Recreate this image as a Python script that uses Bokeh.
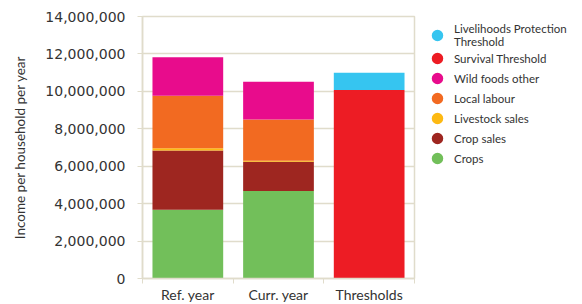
from bokeh.plotting import figure
from bokeh.models import ColumnDataSource, Range1d, FixedTicker, NumeralTickFormatter, Legend, LegendItem
from bokeh.embed import file_html
from bokeh.resources import INLINE

categories = ["Ref. year", "Curr. year", "Thresholds"]
crops = [3.68e6, 4.67e6, 0]
crop_sales = [3.16e6, 1.57e6, 0]
livestock_sales = [0.12e6, 0.05e6, 0]
local_labour = [2.80e6, 2.21e6, 0]
wild_foods_other = [2.06e6, 2.02e6, 0]
survival_threshold = [0, 0, 10.07e6]
lp_threshold = [0, 0, 0.92e6]

y_ticks = [0, 2e6, 4e6, 6e6, 8e6, 10e6, 12e6, 14e6]

series = [
    ("Crops", "crops", crops, "#72bf5a"),
    ("Crop sales", "crop_sales", crop_sales, "#9e2620"),
    ("Livestock sales", "livestock", livestock_sales, "#fdb913"),
    ("Local labour", "labour", local_labour, "#f26a21"),
    ("Wild foods other", "wild", wild_foods_other, "#e80c8c"),
    ("Survival Threshold", "surv", survival_threshold, "#ed1c24"),
    ("Livelihoods Protection\nThreshold", "lpt", lp_threshold, "#36c5f0"),
]

xs = [i + 0.5 for i in range(len(categories))]
data = {"x": xs}
for _, key, vals, _ in series:
    data[key] = vals
source = ColumnDataSource(data)

GRID = "#e0dccb"
TXT = "#333333"

p = figure(frame_width=272, frame_height=262, output_backend="svg", toolbar_location=None,
           x_range=Range1d(0, 3), y_range=Range1d(0, 14e6),
           min_border_left=142, min_border_top=16, min_border_bottom=18,
           min_border_right=0)

renderers = p.vbar_stack([k for _, k, _, _ in series], x="x", width=0.78, source=source,
                         color=[c for _, _, _, c in series], line_width=0)

p.outline_line_color = GRID
p.outline_line_width = 1.5
p.xgrid.visible = False
p.ygrid.grid_line_color = GRID
p.ygrid.grid_line_width = 1.5
p.yaxis.ticker = FixedTicker(ticks=y_ticks)
p.yaxis.formatter = NumeralTickFormatter(format="0,0")
p.xaxis.ticker = FixedTicker(ticks=xs, minor_ticks=[0, 1, 2, 3])
p.xaxis.major_label_overrides = {x: c for x, c in zip(xs, categories)}

for ax in (p.xaxis[0], p.yaxis[0]):
    ax.axis_line_color = GRID
    ax.axis_line_width = 1.5
    ax.major_tick_line_color = GRID
    ax.minor_tick_line_color = GRID
    ax.major_label_text_color = TXT
    ax.major_label_text_font = "Lato"

p.yaxis.major_tick_out = 5
p.yaxis.major_tick_in = 0
p.yaxis.minor_tick_out = 0
p.yaxis.minor_tick_in = 0
p.yaxis.major_label_text_font = "DejaVu Sans"
p.yaxis.major_label_text_font_size = "14px"
p.yaxis.major_label_standoff = 12
p.yaxis.axis_label = "Income per household per year"
p.yaxis.axis_label_text_font = "Lato"
p.yaxis.axis_label_text_font_size = "13.5px"
p.yaxis.axis_label_text_font_style = "normal"
p.yaxis.axis_label_text_color = TXT
p.yaxis.axis_label_standoff = 14

p.xaxis.major_tick_out = 0
p.xaxis.major_tick_in = 0
p.xaxis.minor_tick_out = 5
p.xaxis.minor_tick_in = 0
p.xaxis.major_label_text_font_size = "14px"
p.xaxis.major_label_standoff = 2

items = []
for (label, _, _, color) in reversed(series):
    dummy = p.scatter(x=[float("nan")], y=[float("nan")], marker="circle", size=10,
                      color=color, line_width=3.5)
    items.append(LegendItem(label=label, renderers=[dummy]))

legend = Legend(items=items, location="top_left", margin=6, padding=0,
                border_line_color=None, background_fill_alpha=0,
                label_text_font="Lato", label_text_font_size="11.5px",
                label_text_color=TXT, glyph_width=34, glyph_height=20,
                label_height=19, spacing=0, label_standoff=0)
p.add_layout(legend, "right")

open("out.html", "w").write(file_html(p, INLINE))
